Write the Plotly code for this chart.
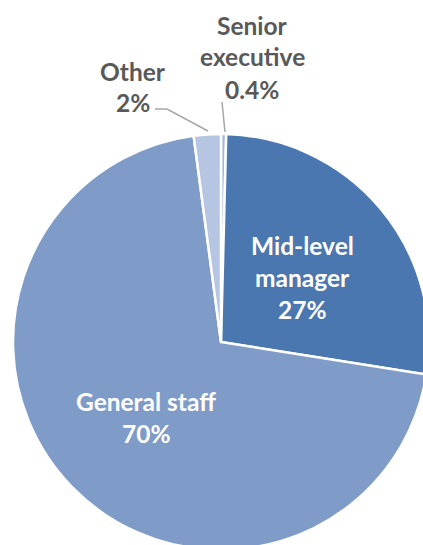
import plotly.graph_objects as go

# slices, clockwise from 12 o'clock
labels = ['Senior executive', 'Mid-level manager', 'General staff', 'Other']
values = [0.4, 27.1, 70.4, 2.1]
colors = ['#A3B7DA', '#4A77B0', '#7F9CC8', '#B6C5E1']

# label text, line by line
label_lines = [
    ['Senior', 'executive', '0.4%'],
    ['Mid-level', 'manager', '27%'],
    ['General staff', '70%'],
    ['Other', '2%'],
]

W, H = 430, 551


def px(x, y):
    return x / W, 1 - y / H


fig = go.Figure()
fig.add_trace(go.Pie(
    labels=labels,
    values=values,
    sort=False,
    direction='clockwise',
    rotation=0,
    marker=dict(colors=colors, line=dict(color='white', width=2.5)),
    textinfo='none',
    hoverinfo='label+percent',
    showlegend=False,
    domain=dict(x=[13 / W, 429 / W], y=[1 - 550 / H, 1 - 134 / H]),
))

# label placement (pixel centre of first line) and colours
label_pos = [(252, 25), (302, 245), (146, 401), (133, 71)]
label_col = ['#595959', 'white', 'white', '#595959']
line_gap = 32

for lines, (lx, ly), col in zip(label_lines, label_pos, label_col):
    for i, t in enumerate(lines):
        x, y = px(lx, ly + i * line_gap)
        fig.add_annotation(
            x=x, y=y, xref='paper', yref='paper',
            text=t, showarrow=False,
            xanchor='center', yanchor='middle',
            font=dict(family='Lato, Open Sans, sans-serif', size=24.5,
                      color=col, weight='bold'),
        )

# leader lines for the two small slices
def path(pts):
    return 'M ' + ' L '.join('%f,%f' % px(x, y) for x, y in pts)

fig.add_shape(type='path', xref='paper', yref='paper',
              path=path([(155, 109), (167, 109), (208, 131)]),
              line=dict(color='#A6A6A6', width=1.5))
fig.add_shape(type='path', xref='paper', yref='paper',
              path=path([(222, 102), (225, 132)]),
              line=dict(color='#A6A6A6', width=1.5))

fig.update_layout(
    width=W, height=H,
    margin=dict(l=0, r=0, t=0, b=0),
    paper_bgcolor='white',
    plot_bgcolor='white',
)

fig.write_html(
    "out.html",
    config=dict(displayModeBar=False),
    post_script="document.body.style.margin='0';"
                "document.body.style.overflow='hidden';"
                "document.documentElement.style.overflow='hidden';",
)
